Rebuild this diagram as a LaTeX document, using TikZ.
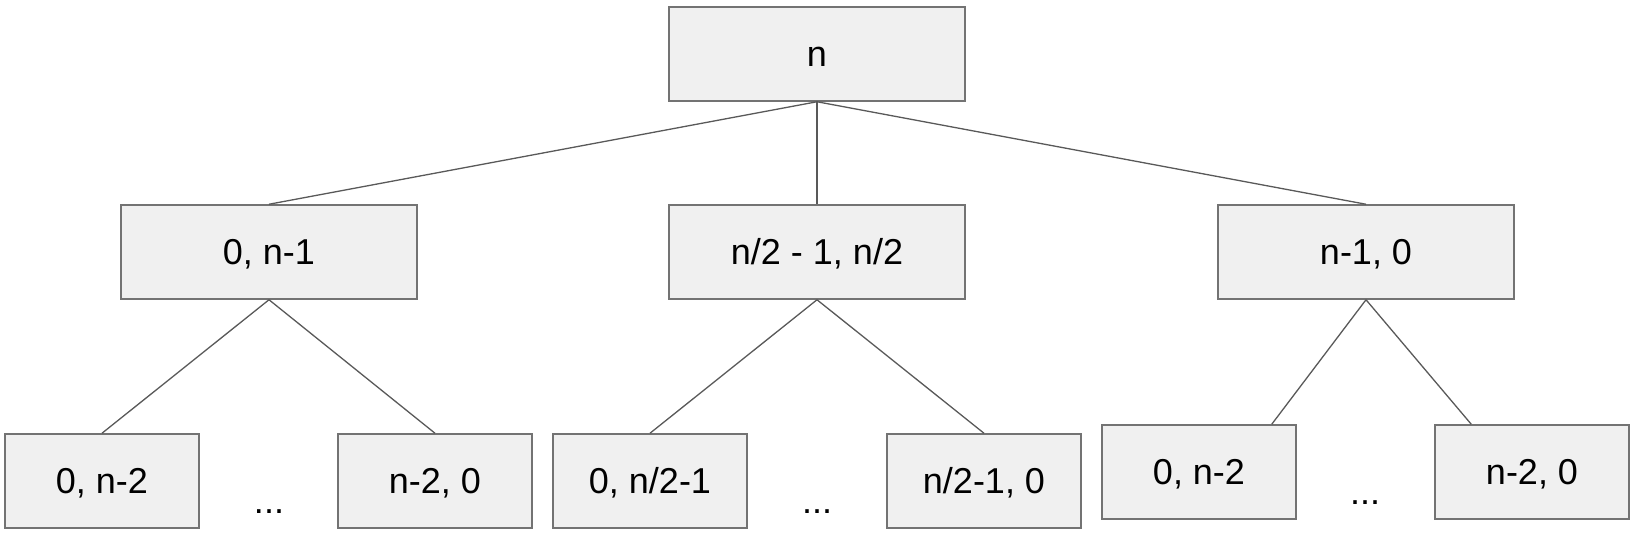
\documentclass[tikz,border=0pt]{standalone}
\usepackage{fontspec}
\setmainfont{Liberation Sans}

\begin{document}
\begin{tikzpicture}[x=1pt,y=-1pt]

\tikzset{box/.style = {shape=rectangle,draw=black!55,fill=black!6,line width=1.5pt,minimum width=296pt,minimum height=94pt,text height=25pt,text depth=0pt,font=\fontsize{36}{42}\selectfont}}
\tikzset{leaf/.style = {box,minimum width=194pt}}
\tikzset{dots/.style = {font=\fontsize{36}{42}\selectfont}}
\tikzset{edge/.style = {draw=black!65,line width=1.3pt}}
\useasboundingbox (0,0) rectangle (1636,534);
%verticies
\node[box] (n) at (817,54) {n};
\node[box] (l) at (269,252) {0, n-1};
\node[box] (m) at (817,252) {n/2 - 1, n/2};
\node[box] (r) at (1366,252) {n-1, 0};
\node[leaf] (ll) at (102,481) {0, n-2};
\node[leaf] (lr) at (435,481) {n-2, 0};
\node[leaf] (ml) at (650,481) {0, n/2-1};
\node[leaf] (mr) at (984,481) {n/2-1, 0};
\node[leaf] (rl) at (1199,472) {0, n-2};
\node[leaf] (rr) at (1532,472) {n-2, 0};
\node[dots] (ld) at (269,512) {...};
\node[dots] (md) at (817,512) {...};
\node[dots] (rd) at (1365,503) {...};
%edges
\draw[edge] (n.south) -- (l.north);
\draw[edge] (n.south) -- (m.north);
\draw[edge] (n.south) -- (r.north);
\draw[edge] (l.south) -- (ll.north);
\draw[edge] (l.south) -- (lr.north);
\draw[edge] (m.south) -- (ml.north);
\draw[edge] (m.south) -- (mr.north);
\draw[edge] (r.south) -- ([xshift=-25pt]rl.north east);
\draw[edge] (r.south) -- ([xshift=37pt]rr.north west);

\end{tikzpicture}
\end{document}
